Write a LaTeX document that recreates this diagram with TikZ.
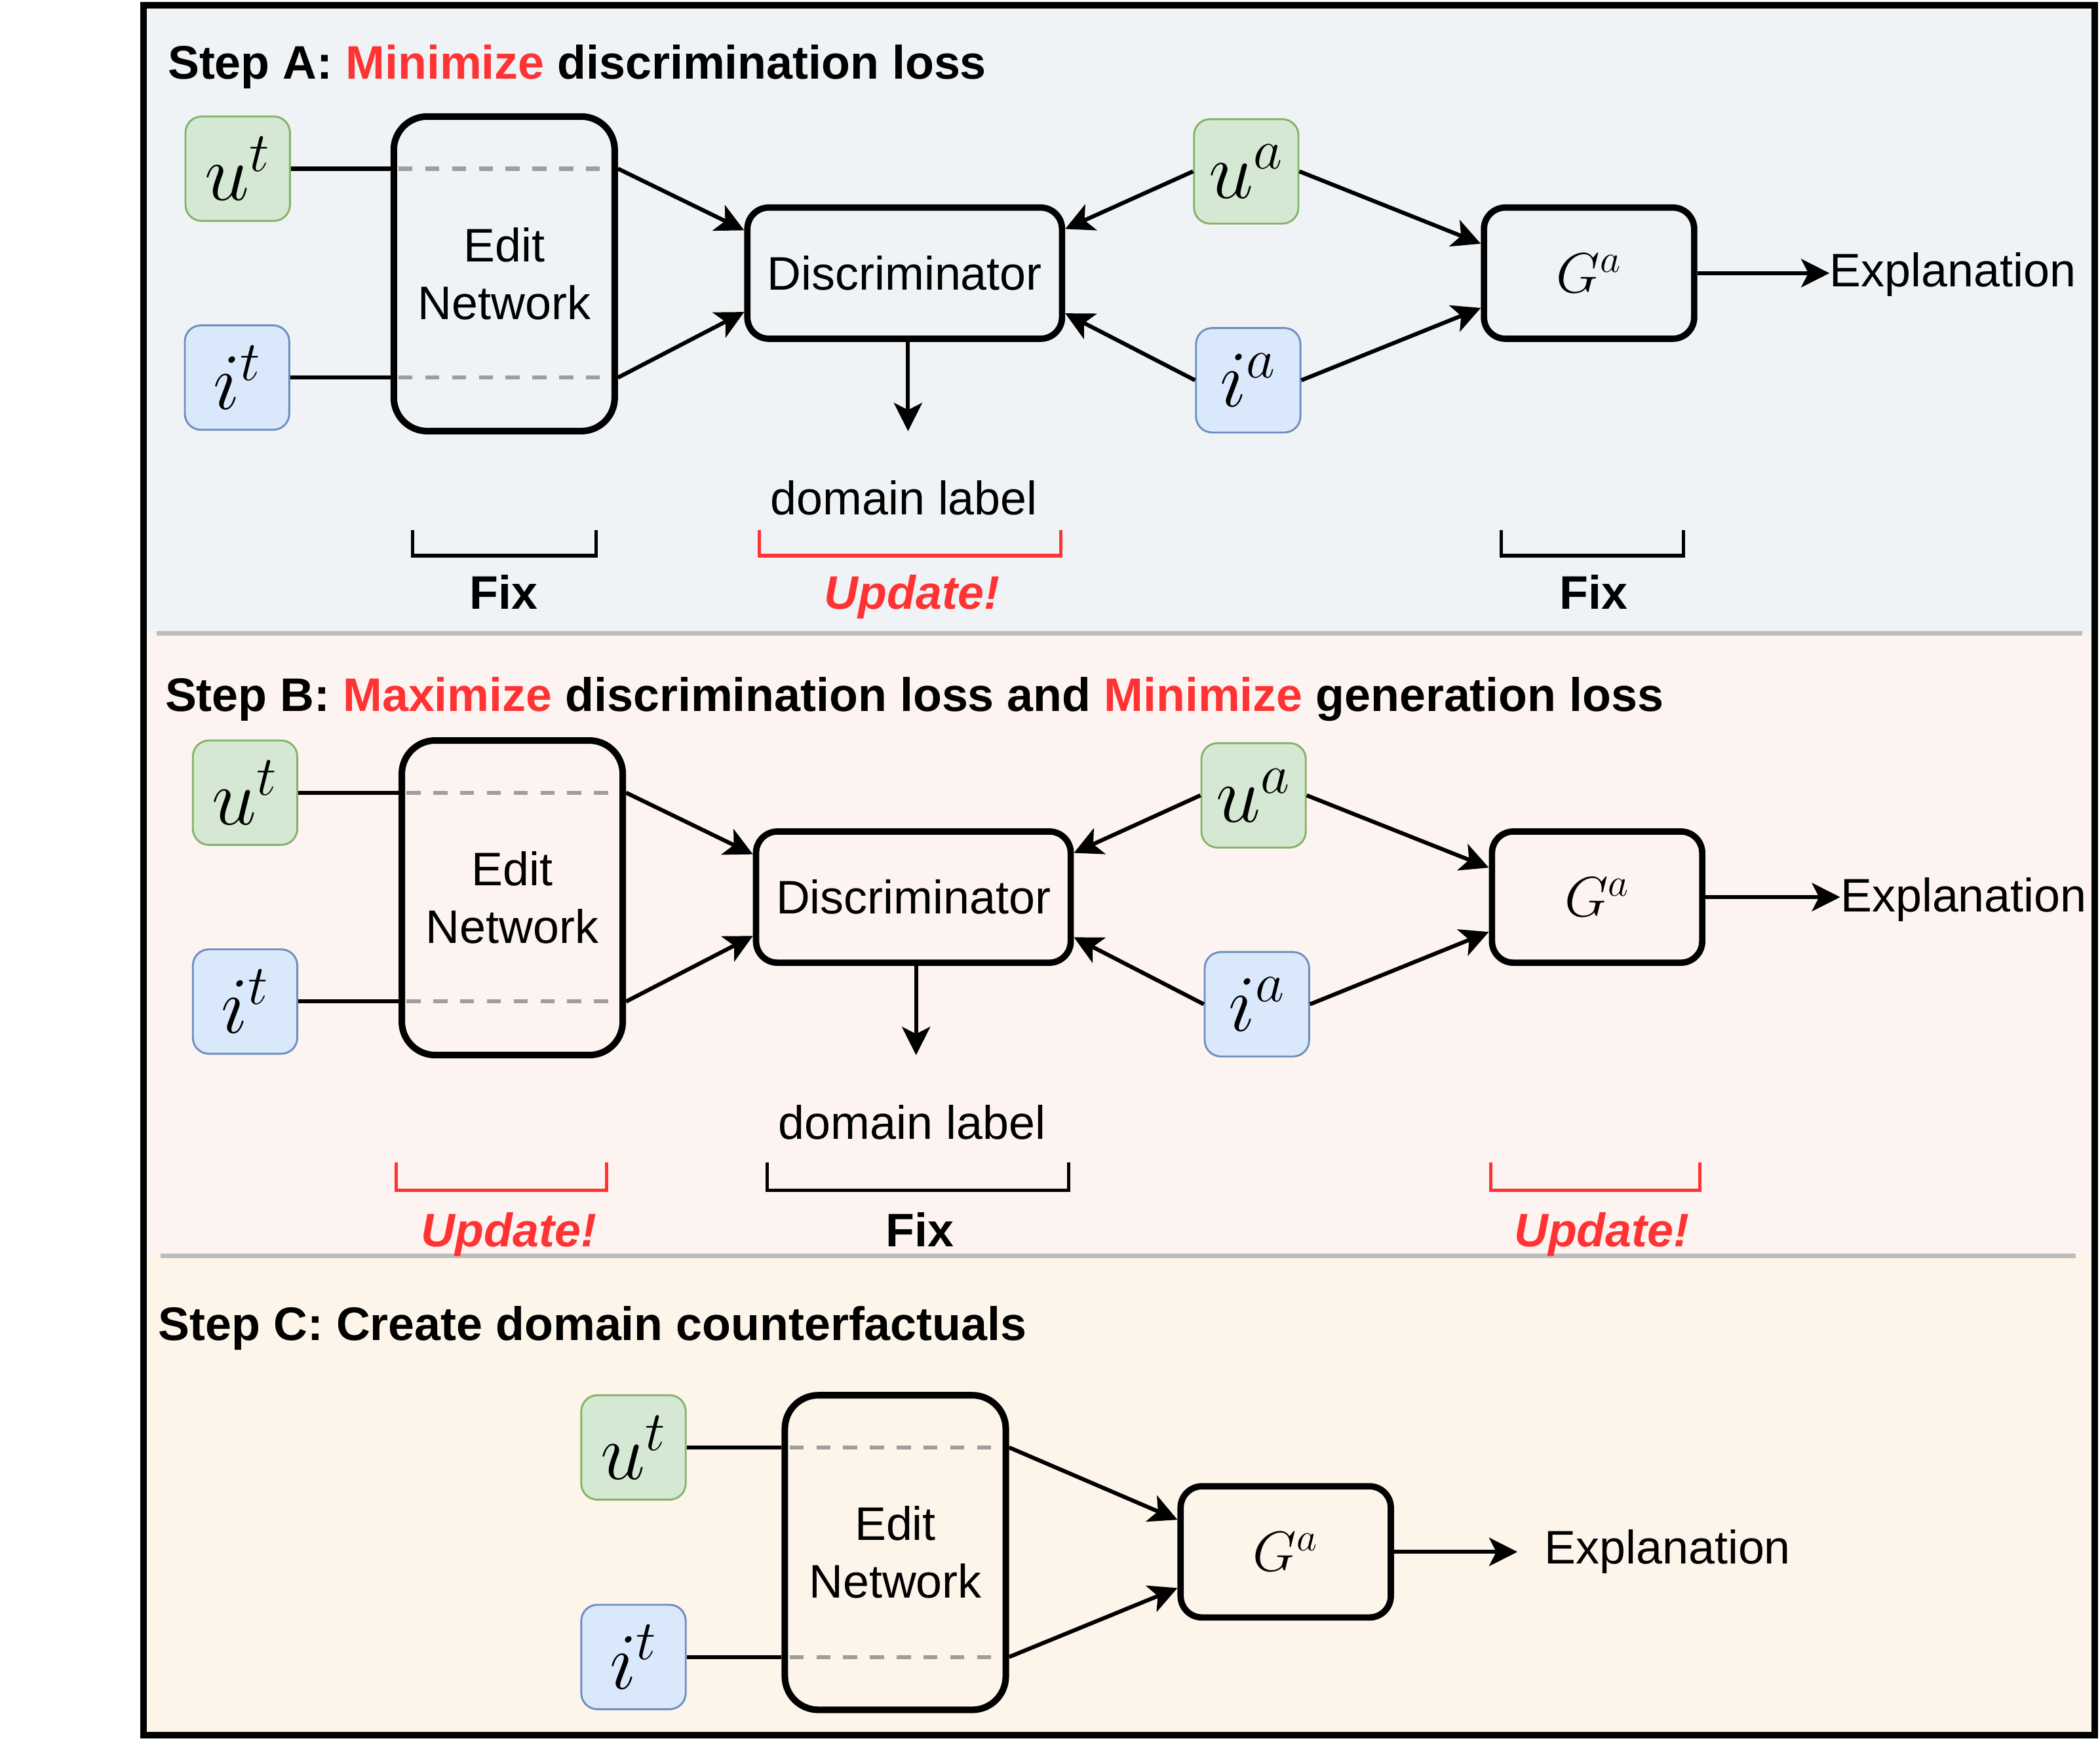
\RequirePackage{fix-cm}
\documentclass[tikz,border=0pt]{standalone}
\usepackage{fontspec}
\setmainfont{Liberation Sans}
\usetikzlibrary{arrows.meta}
\definecolor{ufill}{HTML}{D5E8D4}
\definecolor{uline}{HTML}{82B366}
\definecolor{ifill}{HTML}{DAE8FC}
\definecolor{iline}{HTML}{6C8EBF}
\definecolor{myred}{HTML}{FF3333}
\definecolor{bgA}{HTML}{EFF3F6}
\definecolor{bgB}{HTML}{FDF4F2}
\definecolor{bgC}{HTML}{FDF4EA}
\definecolor{sepgray}{HTML}{BDBDBD}
\definecolor{dashgray}{HTML}{9E9E9E}

\begin{document}
\begin{tikzpicture}[x=0.02cm, y=-0.02cm,
  >={Stealth[length=12pt,width=12pt,inset=3pt]},
  every node/.style={font=\fontsize{20}{24.5}\selectfont},
  ubox/.style={draw=uline, fill=ufill, line width=0.8pt, rounded corners=0.24cm,
    minimum width=1.56cm, minimum height=1.56cm, inner sep=0, font=\fontsize{34}{38}\selectfont},
  ibox/.style={ubox, draw=iline, fill=ifill},
  editbox/.style={draw, line width=2.8pt, rounded corners=0.5cm, align=center,
    minimum width=3.3cm, minimum height=4.7cm, inner sep=0},
  discbox/.style={draw, line width=2.7pt, rounded corners=0.32cm,
    minimum width=4.7cm, minimum height=1.96cm, inner sep=0},
  gbox/.style={discbox, minimum width=3.14cm, font=\fontsize{24}{28}\selectfont},
  expl/.style={anchor=west, inner sep=0},
  title/.style={anchor=base west, inner sep=0, font=\fontsize{20}{24}\selectfont\bfseries},
  fixlbl/.style={anchor=base, inner sep=0, font=\fontsize{20}{24}\selectfont\bfseries},
  updlbl/.style={fixlbl, text=myred, font=\fontsize{20}{24}\selectfont\bfseries\itshape},
  link/.style={line width=1.7pt},
  dashline/.style={draw=dashgray, line width=1.7pt, dash pattern=on 0.21cm off 0.19cm},
  fixbr/.style={line width=1.4pt},
  updbr/.style={fixbr, draw=myred},
  sepline/.style={draw=sepgray, line width=1.8pt}]

  \useasboundingbox (0,0) rectangle (1568,1317);
  \fill[bgA] (107,4) rectangle (1564,473);
  \fill[bgB] (107,473) rectangle (1564,938);
  \fill[bgC] (107,938) rectangle (1564,1296);
  \draw[sepline] (117,473) -- (1555,473);
  \draw[sepline] (120,938) -- (1550,938);
  \draw[line width=2.8pt] (107,4) rectangle (1564,1296);

  \node[title] (titleA) at (125,59) {Step A: \textcolor{myred}{Minimize} discrimination loss};
  \node[ubox] (utA) at (177.5,126) {$u^t$};
  \node[ibox] (itA) at (177,282) {$i^t$};
  \node[editbox] (editA) at (376.5,204.5) {Edit\\Network};
  \node[discbox] (discA) at (675.5,204) {Discriminator};
  \node[ubox] (uaA) at (930.5,128) {$u^a$};
  \node[ibox] (iaA) at (932,284) {$i^a$};
  \node[gbox] (gA) at (1186.5,204) {$G^a$};
  \node[expl] (explA) at (1366,205) {Explanation};
  \coordinate (lblA) at (678,322);
  \node (domA) at (675,372) {domain label};
  \draw[link] (utA.east) -- (utA.east -| editA.west);
  \draw[link] (itA.east) -- (itA.east -| editA.west);
  \draw[dashline, shorten <=0.12cm, shorten >=0.14cm] (utA.east -| editA.west) -- (utA.east -| editA.east);
  \draw[dashline, shorten <=0.12cm, shorten >=0.14cm] (itA.east -| editA.west) -- (itA.east -| editA.east);
  \draw[link,->] (utA.east -| editA.east) -- ([yshift=0.64cm]discA.west);
  \draw[link,->] (itA.east -| editA.east) -- ([yshift=-0.58cm]discA.west);
  \draw[link,->] (uaA.west) -- ([yshift=0.66cm]discA.east);
  \draw[link,->] (iaA.west) -- ([yshift=-0.6cm]discA.east);
  \draw[link,->] (uaA.east) -- ([yshift=0.44cm]gA.west);
  \draw[link,->] (iaA.east) -- ([yshift=-0.52cm]gA.west);
  \draw[link,->] (gA.east) -- (gA.east -| explA.west);
  \draw[link,->] (discA.south -| lblA) -- (lblA);
  \draw[fixbr] (308,396) |- (445,415) -- (445,396);
  \draw[updbr] (567,396) |- (792,415) -- (792,396);
  \draw[fixbr] (1121,396) |- (1257,415) -- (1257,396);
  \node[fixlbl] (fixA1) at (376,455) {Fix};
  \node[updlbl] (updA) at (681,455) {Update!};
  \node[fixlbl] (fixA2) at (1190,455) {Fix};

  \node[title] (titleB) at (123,531) {Step B: \textcolor{myred}{Maximize} discrimination loss and \textcolor{myred}{Minimize} generation loss};
  \node[ubox] (utB) at (183,592) {$u^t$};
  \node[ibox] (itB) at (183,748) {$i^t$};
  \node[editbox] (editB) at (382.5,670.5) {Edit\\Network};
  \node[discbox] (discB) at (682,670) {Discriminator};
  \node[ubox] (uaB) at (936,594) {$u^a$};
  \node[ibox] (iaB) at (938.5,750) {$i^a$};
  \node[gbox] (gB) at (1192.5,670) {$G^a$};
  \node[expl] (explB) at (1374,672) {Explanation};
  \coordinate (lblB) at (684,788);
  \node (domB) at (681,838) {domain label};
  \draw[link] (utB.east) -- (utB.east -| editB.west);
  \draw[link] (itB.east) -- (itB.east -| editB.west);
  \draw[dashline, shorten <=0.12cm, shorten >=0.14cm] (utB.east -| editB.west) -- (utB.east -| editB.east);
  \draw[dashline, shorten <=0.12cm, shorten >=0.14cm] (itB.east -| editB.west) -- (itB.east -| editB.east);
  \draw[link,->] (utB.east -| editB.east) -- ([yshift=0.64cm]discB.west);
  \draw[link,->] (itB.east -| editB.east) -- ([yshift=-0.58cm]discB.west);
  \draw[link,->] (uaB.west) -- ([yshift=0.66cm]discB.east);
  \draw[link,->] (iaB.west) -- ([yshift=-0.6cm]discB.east);
  \draw[link,->] (uaB.east) -- ([yshift=0.44cm]gB.west);
  \draw[link,->] (iaB.east) -- ([yshift=-0.52cm]gB.west);
  \draw[link,->] (gB.east) -- (gB.east -| explB.west);
  \draw[link,->] (discB.south -| lblB) -- (lblB);
  \draw[updbr] (296,868) |- (453,889) -- (453,868);
  \draw[fixbr] (573,868) |- (798,889) -- (798,868);
  \draw[updbr] (1113,868) |- (1269,889) -- (1269,868);
  \node[updlbl] (updB1) at (380,931) {Update!};
  \node[fixlbl] (fixB) at (687,931) {Fix};
  \node[updlbl] (updB2) at (1196,931) {Update!};

  \node[title] (titleC) at (118,1001) {Step C: Create domain counterfactuals};
  \node[ubox] (utC) at (473,1081) {$u^t$};
  \node[ibox] (itC) at (473,1237.5) {$i^t$};
  \node[editbox] (editC) at (668.5,1159.5) {Edit\\Network};
  \node[gbox] (gC) at (960,1159) {$G^a$};
  \node[expl] (explC) at (1153,1159) {Explanation};
  \draw[link] (utC.east) -- (utC.east -| editC.west);
  \draw[link] (itC.east) -- (itC.east -| editC.west);
  \draw[dashline, shorten <=0.12cm, shorten >=0.14cm] (utC.east -| editC.west) -- (utC.east -| editC.east);
  \draw[dashline, shorten <=0.12cm, shorten >=0.14cm] (itC.east -| editC.west) -- (itC.east -| editC.east);
  \draw[link,->] (utC.east -| editC.east) -- ([yshift=0.48cm]gC.west);
  \draw[link,->] (itC.east -| editC.east) -- ([yshift=-0.54cm]gC.west);
  \draw[link,->, shorten >=0.4cm] (gC.east) -- (gC.east -| explC.west);
\end{tikzpicture}
\end{document}
